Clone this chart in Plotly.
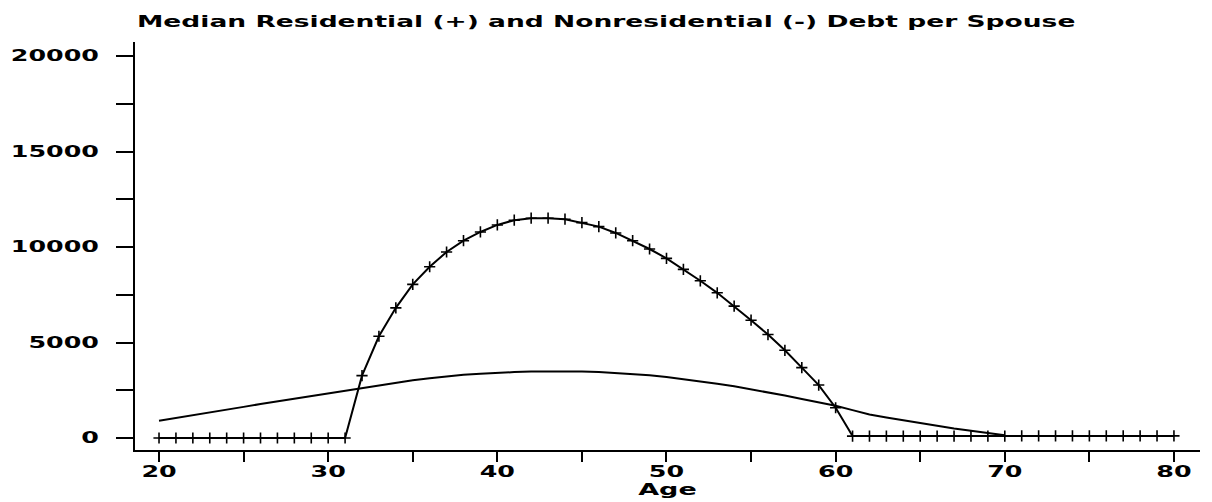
import plotly.graph_objects as go

# Residential debt (+) per spouse, by age
res_age = [20, 21, 22, 23, 24, 25, 26, 27, 28, 29, 30, 31, 32, 33, 34, 35, 36, 37, 38, 39,
           40, 41, 42, 43, 44, 45, 46, 47, 48, 49, 50, 51, 52, 53, 54, 55, 56, 57, 58, 59,
           60, 61, 62, 63, 64, 65, 66, 67, 68, 69, 70, 71, 72, 73, 74, 75, 76, 77, 78, 79, 80]
res_debt = [0, 0, 0, 0, 0, 0, 0, 0, 0, 0, 0, 0,
            3265, 5328, 6814, 8042, 8966, 9738, 10331, 10787, 11155, 11402, 11507, 11507,
            11455, 11276, 11066, 10735, 10331, 9895, 9407, 8829, 8231, 7601, 6903, 6168,
            5417, 4593, 3685, 2772, 1585,
            100, 100, 100, 100, 100, 100, 100, 100, 100, 100,
            110, 110, 110, 110, 110, 110, 110, 110, 110, 110]

# Nonresidential debt (-) per spouse, by age
nonres_age = [20, 21, 22, 23, 24, 25, 26, 27, 28, 29, 30, 31, 32, 33, 34, 35, 36, 37, 38, 39,
              40, 41, 42, 43, 44, 45, 46, 47, 48, 49, 50, 51, 52, 53, 54, 55, 56, 57, 58, 59,
              60, 61, 62, 63, 64, 65, 66, 67, 68, 69, 70]
nonres_debt = [900, 1040, 1180, 1330, 1480, 1630, 1780, 1920, 2070, 2210, 2350, 2480, 2610,
               2750, 2900, 3020, 3130, 3230, 3310, 3370, 3420, 3450, 3480, 3490, 3490, 3480,
               3455, 3410, 3360, 3290, 3190, 3080, 2960, 2840, 2710, 2560, 2390, 2220, 2040,
               1870, 1690, 1460, 1230, 1070, 920, 770, 630, 500, 380, 260, 150]

x_tickvals = [20, 25, 30, 35, 40, 45, 50, 55, 60, 65, 70, 75, 80]
x_ticktext = ["20", "", "30", "", "40", "", "50", "", "60", "", "70", "", "80"]
y_tickvals = [0, 2500, 5000, 7500, 10000, 12500, 15000, 17500, 20000]
y_ticktext = ["0", "", "5000", "", "10000", "", "15000", "", "20000"]

FONT = "DejaVu Sans"
TXT = dict(family=FONT, size=15, color="black", weight="bold")

fig = go.Figure()
fig.add_trace(go.Scatter(
    x=nonres_age, y=nonres_debt, mode="lines",
    line=dict(color="black", width=2), name="Nonresidential (-)",
))
fig.add_trace(go.Scatter(
    x=res_age, y=res_debt, mode="lines+markers",
    line=dict(color="black", width=2),
    marker=dict(symbol="cross-thin", size=8, line=dict(color="black", width=1.6)),
    name="Residential (+)",
))

fig.update_layout(
    width=1212, height=502,
    margin=dict(l=135, r=12, t=42, b=52),
    paper_bgcolor="white", plot_bgcolor="white",
    showlegend=False,
    font=TXT,
    title=dict(
        text="Median Residential (+) and Nonresidential (-) Debt per Spouse",
        x=137 / 1212, xref="container", xanchor="left",
        y=1 - 22 / 502, yref="container", yanchor="middle",
        font=TXT,
    ),
    xaxis=dict(
        range=[18.58, 81.54],
        tickmode="array", tickvals=x_tickvals, ticktext=x_ticktext,
        ticks="outside", ticklen=10, tickwidth=2, tickcolor="black",
        ticklabelstandoff=-3,
        showline=True, linecolor="black", linewidth=2,
        showgrid=False, zeroline=False, automargin=False,
        tickfont=TXT,
        title=dict(text="Age", standoff=2, font=TXT),
    ),
    yaxis=dict(
        range=[-628, 20733],
        tickmode="array", tickvals=y_tickvals, ticktext=y_ticktext,
        ticks="outside", ticklen=17, tickwidth=2, tickcolor="black",
        ticklabelstandoff=14,
        showline=True, linecolor="black", linewidth=2,
        showgrid=False, zeroline=False, automargin=False,
        tickfont=TXT,
    ),
)

# The reference typeface is a horizontally extended sans; stretch the real SVG text
# elements horizontally about their own anchor so the text remains text.
post = """
var gd = document.getElementById('{plot_id}');
function stretch(sel, k) {
  gd.querySelectorAll(sel).forEach(function (t) {
    var tr = t.getAttribute('transform') || '';
    if (tr.indexOf('scale(') !== -1) return;
    var x = parseFloat(t.getAttribute('x')) || 0;
    t.setAttribute('transform', tr + ' translate(' + x + ',0) scale(' + k + ',1) translate(' + (-x) + ',0)');
  });
}
function applyAll() {
  stretch('text.gtitle', 1.768);
  stretch('g.xtick text', 1.69);
  stretch('g.ytick text', 1.69);
  stretch('text.xtitle', 1.8);
}
applyAll();
gd.on('plotly_afterplot', applyAll);
"""

fig.write_html("out.html", post_script=post)
